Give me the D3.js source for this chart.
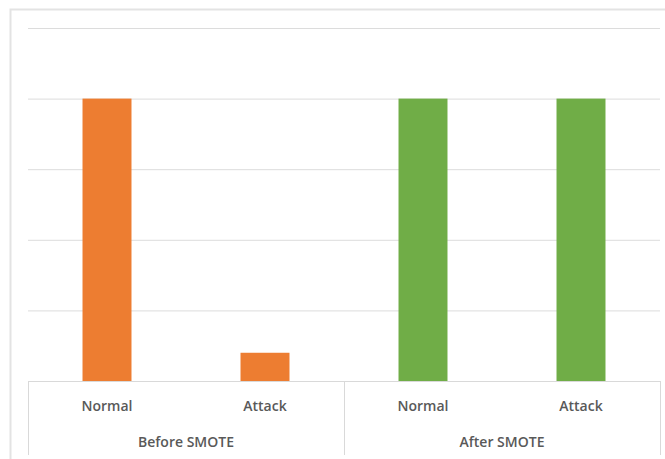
<!DOCTYPE html>
<html>
<head>
<meta charset="utf-8">
<script src="https://cdn.jsdelivr.net/npm/d3@7"></script>
<style>
  html, body { margin: 0; padding: 0; background: #fff; }
  svg { display: block; }
  text { font-family: "Open Sans", "Liberation Sans", sans-serif; }
</style>
</head>
<body>
<svg id="chart" width="665" height="459"></svg>
<script>
// Class counts before and after oversampling with SMOTE
const groups = ["Before SMOTE", "After SMOTE"];
const classes = ["Normal", "Attack"];
const beforeValues = [20000, 2000];
const afterValues = [20000, 20000];
const groupColors = ["#ED7D31", "#70AD47"];
const yTicks = [0, 5000, 10000, 15000, 20000, 25000];

const rows = [];
groups.forEach((g, gi) => {
  const vals = gi === 0 ? beforeValues : afterValues;
  classes.forEach((c, ci) => rows.push({ group: g, cls: c, key: g + "|" + c, value: vals[ci], gi }));
});

const W = 665, H = 459;
const plot = { left: 28, right: 660, top: 28, bottom: 381 };
const svg = d3.select("#chart");

// chart frame
svg.append("rect")
  .attr("x", 10.5).attr("y", 9.5)
  .attr("width", W).attr("height", H)
  .attr("fill", "#fff").attr("stroke", "#e3e3e3").attr("stroke-width", 2);

const x = d3.scaleBand()
  .domain(rows.map(d => d.key))
  .range([plot.left, plot.right])
  .paddingInner(0.69).paddingOuter(0.345);

const y = d3.scaleLinear()
  .domain([0, d3.max(yTicks)])
  .range([plot.bottom, plot.top]);

// horizontal gridlines
const grid = d3.axisLeft(y)
  .tickValues(yTicks.slice(1))
  .tickSize(-(plot.right - plot.left))
  .tickFormat("");
svg.append("g")
  .attr("transform", `translate(${plot.left},0)`)
  .call(grid)
  .call(g => g.select(".domain").remove())
  .call(g => g.selectAll(".tick line").attr("stroke", "#dcdcdc").attr("stroke-width", 1));

// bars
svg.append("g").selectAll("rect")
  .data(rows)
  .join("rect")
  .attr("x", d => x(d.key))
  .attr("y", d => y(d.value))
  .attr("width", x.bandwidth())
  .attr("height", d => y(0) - y(d.value))
  .attr("fill", d => groupColors[d.gi]);

// multi-level category axis
const axis = svg.append("g");
axis.append("line")
  .attr("x1", plot.left).attr("x2", plot.right)
  .attr("y1", plot.bottom + 0.5).attr("y2", plot.bottom + 0.5)
  .attr("stroke", "#d9d9d9");

const step = x.step();
const groupEdges = [plot.left, plot.left + step * 2, plot.right];
axis.selectAll("line.sep")
  .data(groupEdges)
  .join("line")
  .attr("class", "sep")
  .attr("x1", d => Math.round(d) + 0.5).attr("x2", d => Math.round(d) + 0.5)
  .attr("y1", plot.bottom).attr("y2", 455)
  .attr("stroke", "#d9d9d9");

axis.selectAll("text.cls")
  .data(rows)
  .join("text")
  .attr("class", "cls")
  .attr("x", d => x(d.key) + x.bandwidth() / 2)
  .attr("y", 411)
  .attr("text-anchor", "middle")
  .attr("fill", "#595959")
  .attr("font-size", 14)
  .attr("font-weight", 600)
  .text(d => d.cls);

axis.selectAll("text.grp")
  .data(groups)
  .join("text")
  .attr("class", "grp")
  .attr("x", (d, i) => (groupEdges[i] + groupEdges[i + 1]) / 2)
  .attr("y", 447)
  .attr("text-anchor", "middle")
  .attr("fill", "#595959")
  .attr("font-size", 14)
  .attr("font-weight", 600)
  .text(d => d);
</script>
</body>
</html>
